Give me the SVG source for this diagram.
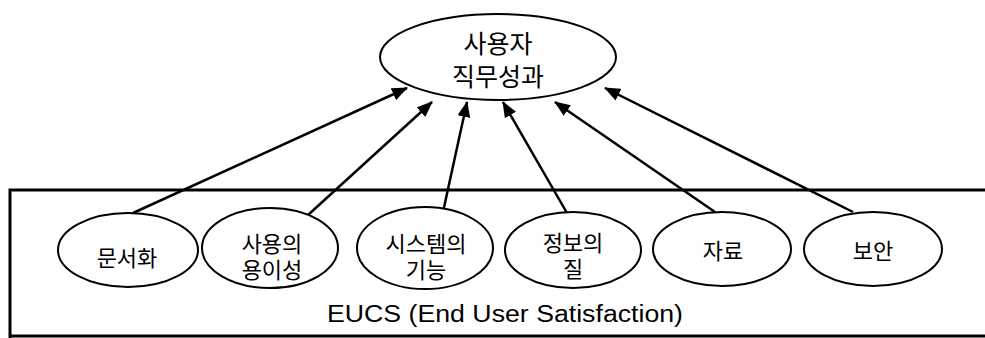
<svg xmlns="http://www.w3.org/2000/svg" width="985" height="338" viewBox="0 0 985 338">
  <style>
    .node ellipse { fill: #ffffff; stroke: #000000; stroke-width: 2; }
    .label { font-family: "Liberation Sans", "Noto Sans CJK KR", sans-serif; font-size: 22px; letter-spacing: 0px; text-anchor: middle; fill: #000000; }
    .top-label { font-size: 25px; }
    .edge { stroke: #000000; stroke-width: 2.5; fill: none; marker-end: url(#arrow); }
    .frame { stroke: #000000; stroke-width: 3; fill: none; }
    .caption { font-family: "Liberation Sans", "Noto Sans", sans-serif; font-size: 23.5px; fill: #000000; }
  </style>
  <defs>
    <marker id="arrow" markerUnits="userSpaceOnUse" markerWidth="16" markerHeight="13" viewBox="0 0 16 13" refX="15" refY="6.5" orient="auto">
      <path d="M0,0 L16,6.5 L0,13 z" fill="#000000"/>
    </marker>
  </defs>

  <rect width="985" height="338" fill="#ffffff"/>

  <!-- EUCS frame (open to the right edge) -->
  <g id="eucs-frame">
    <path class="frame" d="M985,190 L10,190 L10,338"/>
    <path class="frame" d="M10,336 L985,336"/>
    <text class="caption" x="327" y="322" textLength="356" lengthAdjust="spacingAndGlyphs">EUCS (End User Satisfaction)</text>
  </g>

  <!-- connectors -->
  <g id="connectors">
    <line class="edge" x1="133" y1="213" x2="407" y2="88"/>
    <line class="edge" x1="308" y1="215" x2="432" y2="102"/>
    <line class="edge" x1="443" y1="212" x2="467" y2="102"/>
    <line class="edge" x1="567" y1="213" x2="503" y2="102"/>
    <line class="edge" x1="715" y1="212" x2="555" y2="102"/>
    <line class="edge" x1="853" y1="212" x2="605" y2="88"/>
  </g>

  <!-- target node -->
  <g id="node-performance" class="node">
    <ellipse cx="498" cy="57" rx="118" ry="43"/>
    <text class="label top-label" x="498" y="53">사용자</text>
    <text class="label top-label" x="498" y="86">직무성과</text>
  </g>

  <!-- EUCS factor nodes -->
  <g id="node-documentation" class="node">
    <ellipse cx="128" cy="250" rx="70" ry="37"/>
    <text class="label" x="127" y="266">문서화</text>
  </g>
  <g id="node-ease-of-use" class="node">
    <ellipse cx="270" cy="248" rx="68" ry="40"/>
    <text class="label" x="272" y="252">사용의</text>
    <text class="label" x="272" y="278">용이성</text>
  </g>
  <g id="node-system-function" class="node">
    <ellipse cx="425" cy="248" rx="68" ry="41"/>
    <text class="label" x="426" y="252">시스템의</text>
    <text class="label" x="426" y="278">기능</text>
  </g>
  <g id="node-information-quality" class="node">
    <ellipse cx="573" cy="250" rx="68" ry="38"/>
    <text class="label" x="573" y="251">정보의</text>
    <text class="label" x="573" y="277">질</text>
  </g>
  <g id="node-data" class="node">
    <ellipse cx="722" cy="249" rx="69" ry="37"/>
    <text class="label" x="723" y="259">자료</text>
  </g>
  <g id="node-security" class="node">
    <ellipse cx="873" cy="249" rx="69" ry="37"/>
    <text class="label" x="873" y="259">보안</text>
  </g>
</svg>
